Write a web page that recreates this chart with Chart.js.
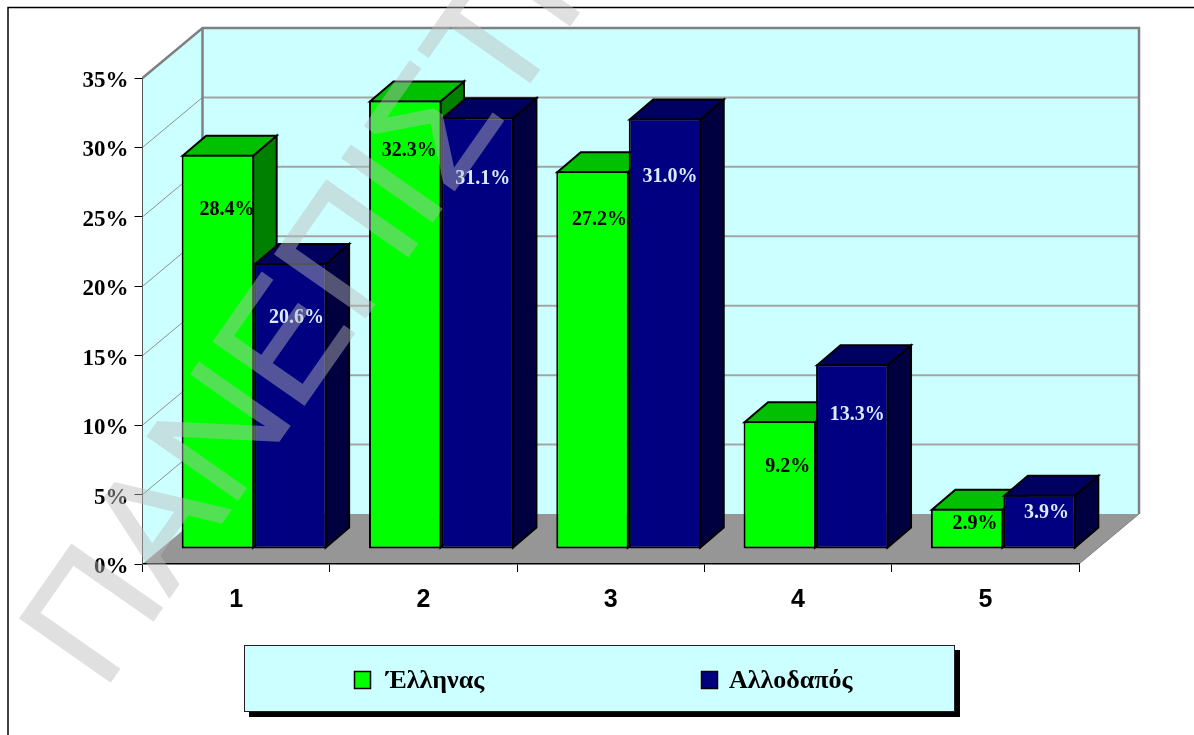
<!DOCTYPE html>
<html>
<head>
<meta charset="utf-8">
<style>html,body{margin:0;padding:0;background:#fff}canvas{display:block}</style>
<script src="https://cdn.jsdelivr.net/npm/chart.js@4/dist/chart.umd.min.js"></script>
</head>
<body>
<canvas id="c" width="1194" height="735"></canvas>
<script>
const categories = ['1', '2', '3', '4', '5'];
const seriesNames = ['Έλληνας', 'Αλλοδαπός'];
const greekValues = [28.4, 32.3, 27.2, 9.2, 2.9];
const foreignValues = [20.6, 31.1, 31.0, 13.3, 3.9];
const watermarkText = 'ΠΑΝΕΠΙΣΤΗΜΙΟ';

// 3D box styling
const WALL = '#CCFFFF', FLOOR = '#969696';
const WALL_DX = 60, WALL_DY = -50;      // depth of the plot box
const BAR_DX = 18, BAR_DY = -15;        // bars stand inside the box
const BOX_DX = 23.5, BOX_DY = -20;      // depth of each bar
const faces = [
  {front: '#00FF00', top: '#00C000', side: '#008000', label: '#000000'},
  {front: '#000080', top: '#000060', side: '#000040', label: '#D8ECFF'}
];
// hand-placed label nudges, relative to bar front face centre / top
const labelNudge = [
  [[9, 55], [4, 50], [7, 49], [8, 46], [8, 15]],
  [[6, 55], [5, 62], [5, 58], [5, 51], [7, 18]]
];

function poly(ctx, pts) {
  ctx.beginPath();
  pts.forEach((p, i) => i ? ctx.lineTo(p[0], p[1]) : ctx.moveTo(p[0], p[1]));
  ctx.closePath();
}

const boxPlugin = {
  id: 'box3d',
  beforeDraw(chart) {
    const ctx = chart.ctx, a = chart.chartArea, y = chart.scales.y;
    const L = a.left, R = a.right, T = a.top, B = a.bottom;
    ctx.save();
    // outer frame
    ctx.strokeStyle = '#000'; ctx.lineWidth = 1.5;
    ctx.beginPath(); ctx.moveTo(8, 735); ctx.lineTo(8, 7.5); ctx.lineTo(1194, 7.5); ctx.stroke();
    // walls
    ctx.fillStyle = WALL;
    poly(ctx, [[L, T], [L + WALL_DX, T + WALL_DY], [R + WALL_DX, T + WALL_DY], [R + WALL_DX, B + WALL_DY], [L + WALL_DX, B + WALL_DY], [L, B]]);
    ctx.fill();
    ctx.fillStyle = FLOOR;
    poly(ctx, [[L, B], [L + WALL_DX, B + WALL_DY], [R + WALL_DX, B + WALL_DY], [R, B]]);
    ctx.fill();
    // grid lines
    y.ticks.forEach(t => {
      const py = y.getPixelForValue(t.value);
      if (t.value === 0 || t.value === y.max) return;
      ctx.strokeStyle = '#909090'; ctx.lineWidth = 1;
      ctx.beginPath(); ctx.moveTo(L, py); ctx.lineTo(L + WALL_DX, py + WALL_DY); ctx.stroke();
      ctx.strokeStyle = '#A4A4A4'; ctx.lineWidth = 2;
      ctx.beginPath(); ctx.moveTo(L + WALL_DX, py + WALL_DY); ctx.lineTo(R + WALL_DX, py + WALL_DY); ctx.stroke();
    });
    // box edges
    ctx.strokeStyle = '#808080'; ctx.lineWidth = 2.5;
    ctx.beginPath();
    ctx.moveTo(L, T); ctx.lineTo(L + WALL_DX, T + WALL_DY); ctx.lineTo(R + WALL_DX, T + WALL_DY); ctx.lineTo(R + WALL_DX, B + WALL_DY);
    ctx.moveTo(L + WALL_DX, T + WALL_DY); ctx.lineTo(L + WALL_DX, B + WALL_DY);
    ctx.stroke();
    ctx.lineWidth = 1;
    ctx.beginPath(); ctx.moveTo(R + WALL_DX, B + WALL_DY); ctx.lineTo(R, B); ctx.stroke();
    ctx.restore();
  },
  beforeDatasetDraw() { return false; },
  afterDatasetsDraw(chart) {
    const ctx = chart.ctx;
    ctx.save();
    ctx.lineJoin = 'miter'; ctx.strokeStyle = '#000'; ctx.lineWidth = 2;
    chart.data.datasets.forEach((ds, di) => {
      const f = faces[di];
      chart.getDatasetMeta(di).data.forEach(bar => {
        const l = bar.x - bar.width / 2 + BAR_DX, r = bar.x + bar.width / 2 + BAR_DX;
        const t = bar.y + BAR_DY, b = bar.base + BAR_DY;
        ctx.fillStyle = f.side;
        poly(ctx, [[r - 1, t + 1], [r - 1 + BOX_DX, t + 1 + BOX_DY], [r - 1 + BOX_DX, b - 1 + BOX_DY], [r - 1, b - 1]]);
        ctx.fill(); ctx.stroke();
        ctx.fillStyle = f.top;
        poly(ctx, [[l + 1, t + 1], [l + 1 + BOX_DX, t + 1 + BOX_DY], [r - 1 + BOX_DX, t + 1 + BOX_DY], [r - 1, t + 1]]);
        ctx.fill(); ctx.stroke();
        ctx.save();
        ctx.translate(BAR_DX, BAR_DY);
        bar.draw(ctx);
        ctx.restore();
      });
    });
    // value labels
    ctx.font = 'bold 20px "Liberation Serif"';
    ctx.textAlign = 'center'; ctx.textBaseline = 'middle';
    chart.data.datasets.forEach((ds, di) => {
      ctx.fillStyle = faces[di].label;
      chart.getDatasetMeta(di).data.forEach((bar, i) => {
        const n = labelNudge[di][i];
        ctx.fillText(ds.data[i].toFixed(1) + '%', bar.x + BAR_DX + n[0], bar.y + BAR_DY + n[1]);
      });
    });
    ctx.restore();
  },
  afterDraw(chart) {
    const ctx = chart.ctx;
    ctx.save();
    // legend
    ctx.fillStyle = '#000'; ctx.fillRect(249, 650, 711, 67);
    ctx.fillStyle = WALL; ctx.fillRect(244, 645, 711, 67);
    ctx.strokeStyle = '#222'; ctx.lineWidth = 1; ctx.strokeRect(244.5, 645.5, 710, 66);
    const swatchX = [354.5, 701.5], textX = [386, 729];
    ctx.font = 'bold 26px "Liberation Serif"';
    ctx.textAlign = 'left'; ctx.textBaseline = 'middle';
    chart.data.datasets.forEach((ds, di) => {
      ctx.fillStyle = faces[di].front; ctx.strokeStyle = '#000'; ctx.lineWidth = 1.5;
      ctx.fillRect(swatchX[di], 671.5, 16, 17); ctx.strokeRect(swatchX[di], 671.5, 16, 17);
      ctx.fillStyle = '#000';
      ctx.fillText(ds.label, textX[di], 681);
    });
    // watermark, a single translucent layer on top of everything
    const off = document.createElement('canvas');
    off.width = chart.width; off.height = chart.height;
    const o = off.getContext('2d');
    o.translate(103, 692); o.rotate(-55 * Math.PI / 180);
    o.font = '160px "Liberation Sans"';
    o.fillStyle = o.strokeStyle = 'rgb(187,187,187)';
    o.lineWidth = 2; o.lineJoin = 'miter'; o.miterLimit = 4;
    o.textBaseline = 'alphabetic';
    o.fillText(watermarkText, 0, 0);
    o.strokeText(watermarkText, 0, 0);
    ctx.globalAlpha = 0.45;
    ctx.drawImage(off, 0, 0);
    ctx.restore();
  }
};

new Chart(document.getElementById('c'), {
  type: 'bar',
  data: {
    labels: categories,
    datasets: [
      {label: seriesNames[0], data: greekValues, backgroundColor: faces[0].front, borderColor: '#000', borderWidth: 2, borderSkipped: false},
      {label: seriesNames[1], data: foreignValues, backgroundColor: faces[1].front, borderColor: '#000', borderWidth: 2, borderSkipped: false}
    ]
  },
  plugins: [boxPlugin],
  options: {
    responsive: false,
    animation: false,
    layout: {padding: {left: 0, right: 115, top: 78, bottom: 0}},
    barPercentage: 1,
    categoryPercentage: 0.774,
    plugins: {legend: {display: false}, tooltip: {enabled: false}, title: {display: false}},
    scales: {
      x: {
        afterFit(s) { s.height = 171; },
        grid: {drawOnChartArea: false, drawTicks: true, tickLength: 8, color: '#000', lineWidth: 1},
        border: {display: true, color: '#000', width: 1.5},
        ticks: {color: '#000', padding: 13, maxRotation: 0, font: {family: '"Liberation Sans"', size: 25, weight: 'bold'}}
      },
      y: {
        min: 0, max: 35,
        afterFit(s) {
          s.width = 142.5;
          if (!s._shifted) {
            const orig = s._computeLabelItems.bind(s);
            s._computeLabelItems = ca => orig(ca).map(i => ({...i, textOffset: i.textOffset + 3}));
            s._shifted = true;
          }
        },
        grid: {drawOnChartArea: false, drawTicks: true, tickLength: 8, color: '#000', lineWidth: 1},
        border: {display: true, color: '#555', width: 1},
        ticks: {stepSize: 5, color: '#000', padding: 6, callback: v => v + '%', font: {family: '"Liberation Serif"', size: 23, weight: 'bold'}}
      }
    }
  }
});
</script>
</body>
</html>
